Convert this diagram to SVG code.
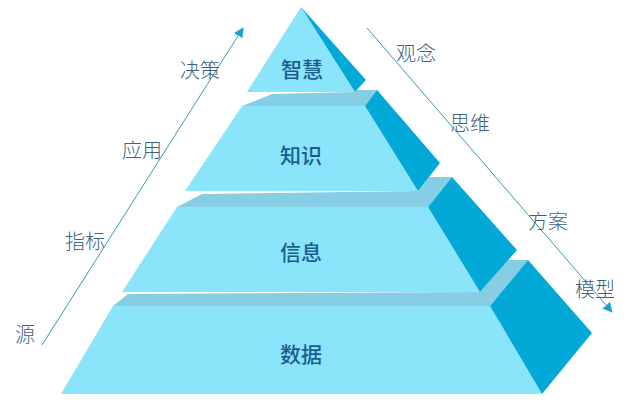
<svg xmlns="http://www.w3.org/2000/svg" width="640" height="404" viewBox="0 0 640 404">
<defs>
<style>
.front{fill:#8ae4fa}
.ledge{fill:#86cee3}
.side{fill:#03a9d6}
.lbl{font-family:"Noto Sans CJK SC","Liberation Sans",sans-serif;font-size:21px;fill:#1c5d90;font-weight:500;text-anchor:middle}
.side-lbl{font-family:"Noto Sans CJK SC","Liberation Sans",sans-serif;font-size:20px;fill:#3f5f80;font-weight:300}
.conn{stroke:#3a98b2;stroke-width:1;fill:none}
</style>
<marker id="ah" viewBox="0 0 10 10" refX="9" refY="5" markerWidth="10" markerHeight="10" markerUnits="userSpaceOnUse" orient="auto">
<path d="M0,0 L10,5 L0,10 Z" fill="#1ba2c9"/>
</marker>
</defs>
<rect width="640" height="404" fill="#ffffff"/>
<g id="level-data">
<polygon class="ledge" points="128,294 480,292 508,260 528,260 490,306 113,306"/>
<polygon class="front" points="113,306 490,306 542,394 61,394"/>
<polygon class="side" points="490,306 528,260 592,333 542,394"/>
<text class="lbl" x="301" y="362">数据</text>
</g>
<g id="level-info">
<polygon class="ledge" points="202,194 418,191 429,177 452,177 428,207 177,207"/>
<polygon class="front" points="177,207 428,207 480,292 122,292"/>
<polygon class="side" points="428,207 452,177 517,250 480,292"/>
<text class="lbl" x="301" y="260">信息</text>
</g>
<g id="level-knowledge">
<polygon class="ledge" points="272,94 355,92 357,90 377,90 365,106 242,106"/>
<polygon class="front" points="242,106 365,106 418,191 185,191"/>
<polygon class="side" points="365,106 377,90 440,163 418,191"/>
<text class="lbl" x="301" y="163">知识</text>
</g>
<g id="level-wisdom">
<polygon class="front" points="301,7 355,92 247,92"/>
<polygon class="side" points="301,7 366,80 355,92"/>
<text class="lbl" x="302" y="77">智慧</text>
</g>
<g id="connectors">
<line class="conn" x1="42" y1="345" x2="243" y2="28" marker-end="url(#ah)"/>
<line class="conn" x1="367" y1="28" x2="612" y2="312" marker-end="url(#ah)"/>
</g>
<g id="labels-left">
<text class="side-lbl" x="180" y="78">决策</text>
<text class="side-lbl" x="122" y="158">应用</text>
<text class="side-lbl" x="65" y="249">指标</text>
<text class="side-lbl" x="15" y="342">源</text>
</g>
<g id="labels-right">
<text class="side-lbl" x="396" y="61">观念</text>
<text class="side-lbl" x="450" y="131">思维</text>
<text class="side-lbl" x="528" y="229">方案</text>
<text class="side-lbl" x="575" y="297">模型</text>
</g>
</svg>
